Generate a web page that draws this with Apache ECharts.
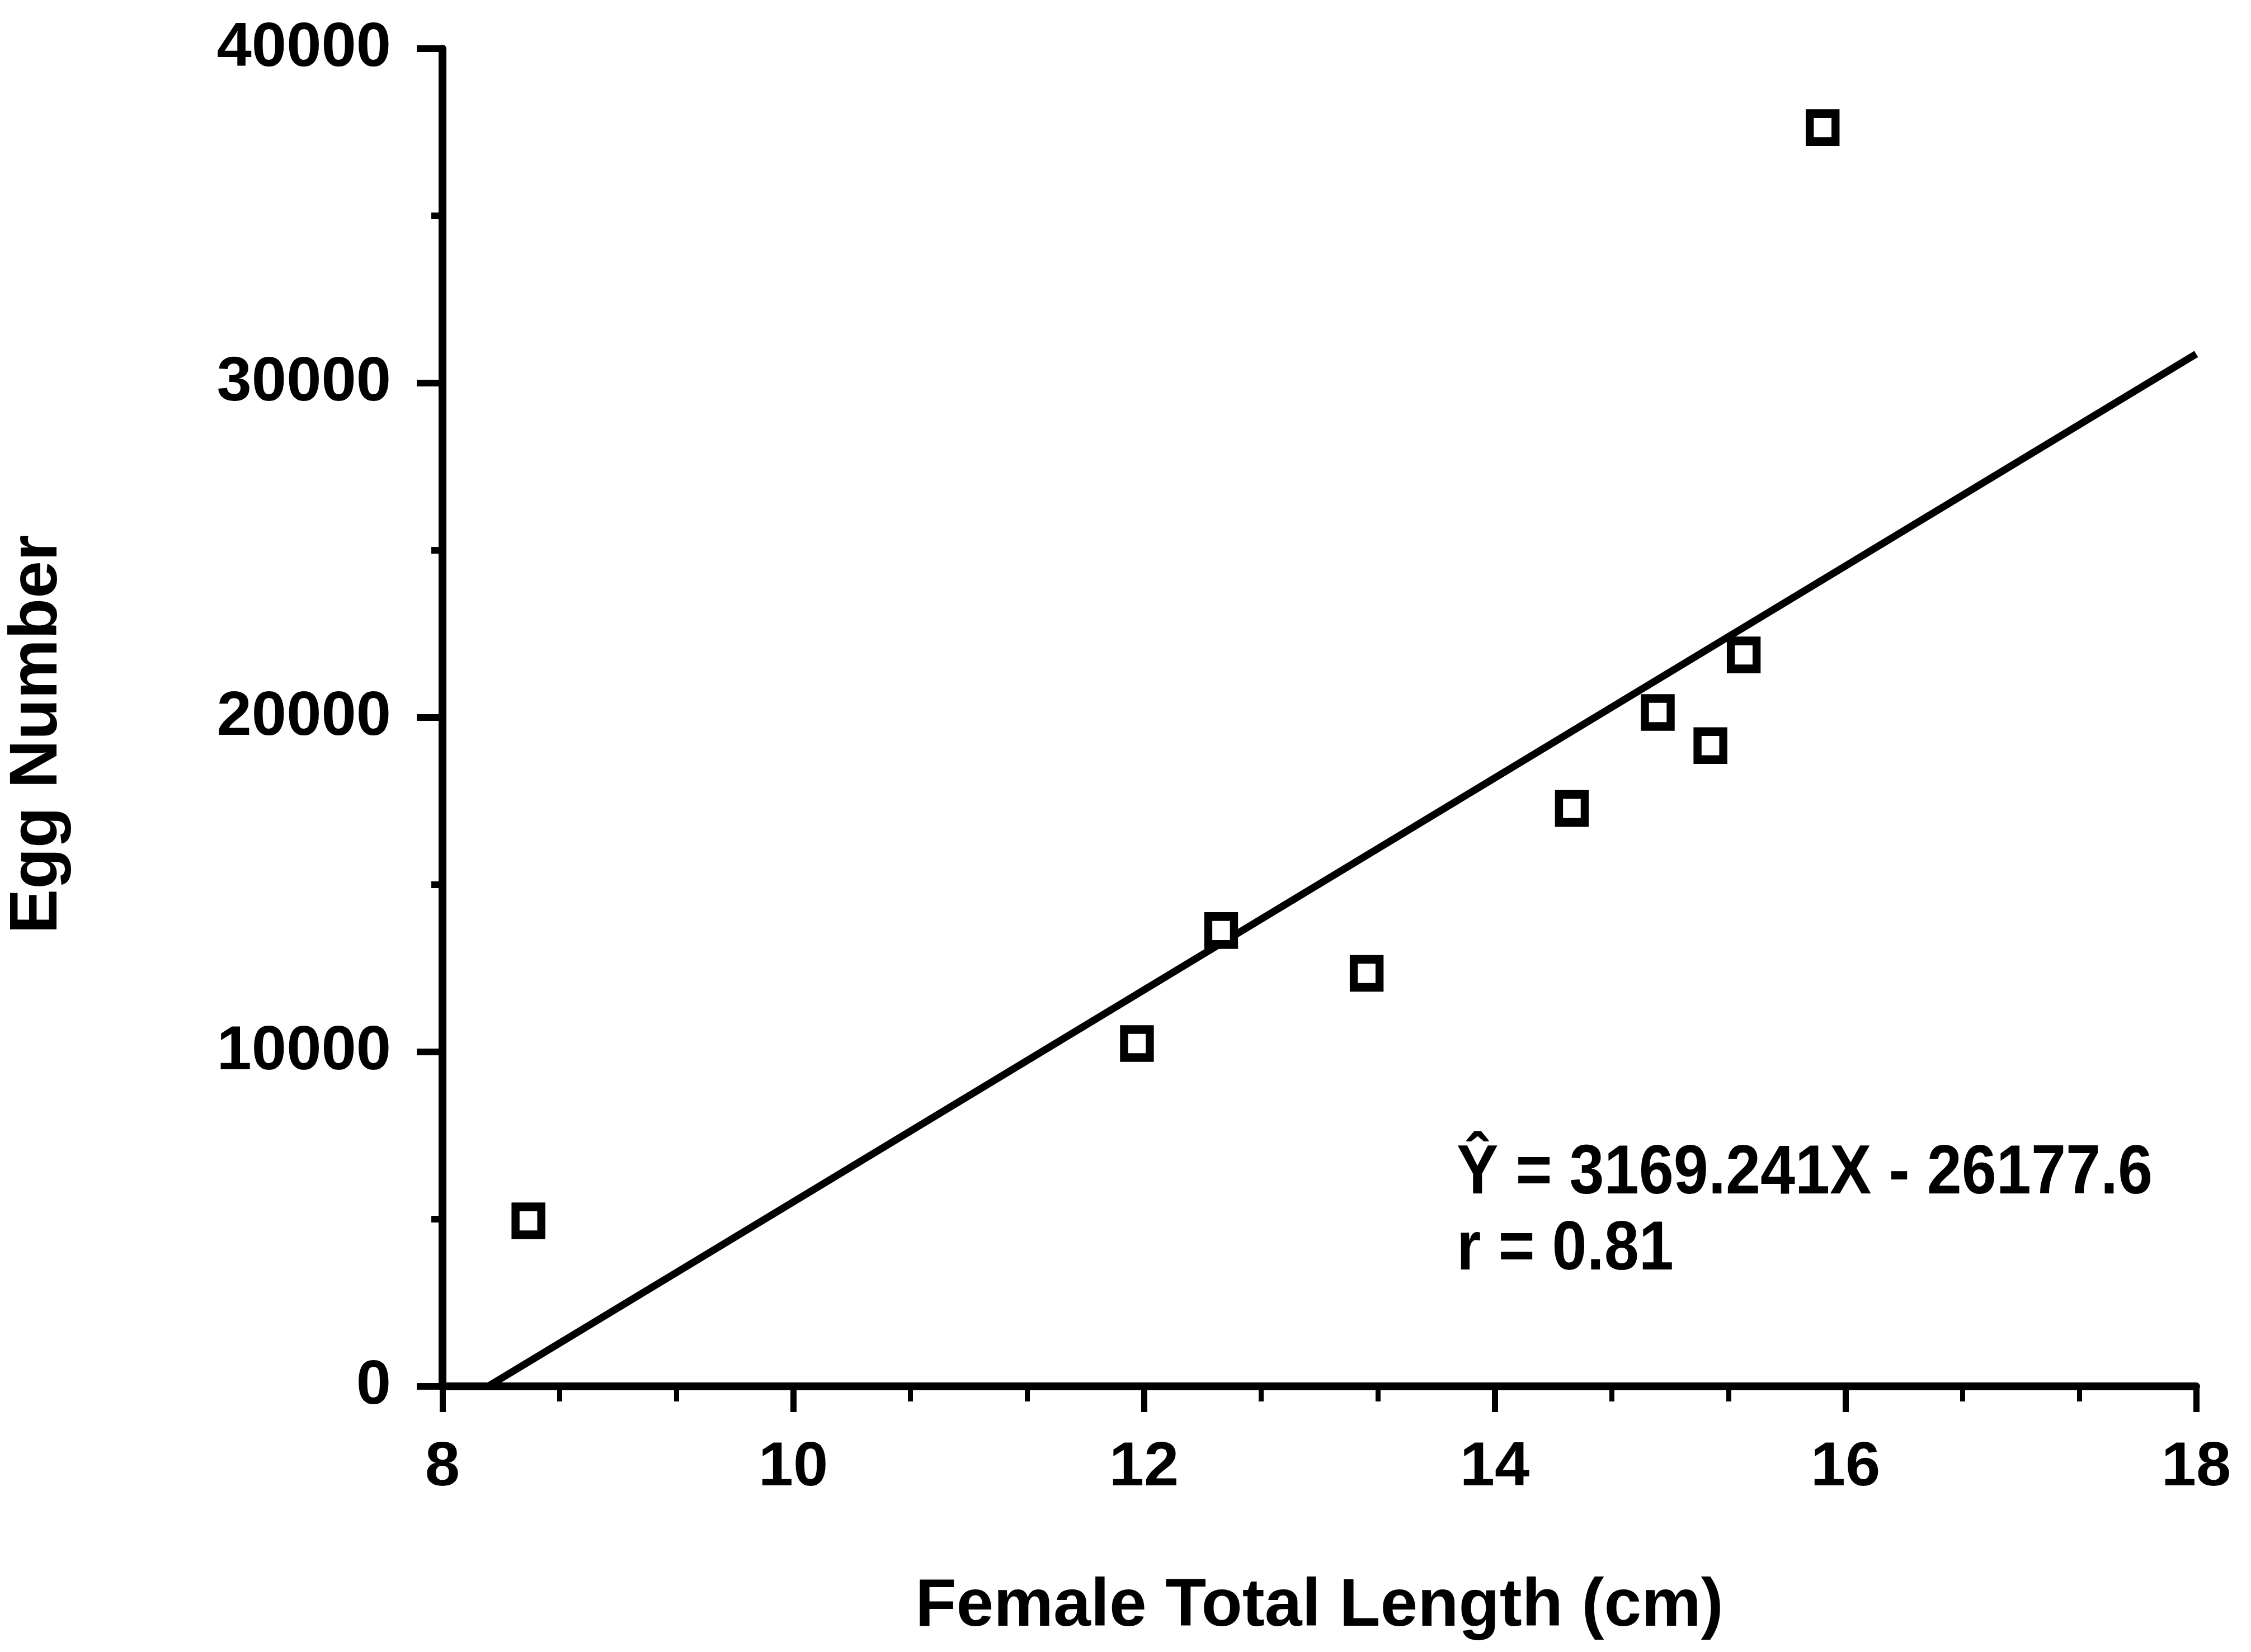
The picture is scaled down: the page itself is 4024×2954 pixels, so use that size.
<!DOCTYPE html>
<html>
<head>
<meta charset="utf-8">
<script src="https://cdn.jsdelivr.net/npm/echarts@6/dist/echarts.min.js"></script>
<style>
  html, body { margin: 0; padding: 0; background: #fff; }
  #chart { width: 4024px; height: 2954px; }
</style>
</head>
<body>
<div id="chart"></div>
<script>
// Female total length (cm) and egg number for each fish
const lengthCm  = [8.49, 11.96, 12.44, 13.27, 14.44, 14.93, 15.23, 15.42, 15.87];
const eggNumber = [4950, 10250, 13630, 12350, 17280, 20150, 19160, 21870, 37640];

// Fitted regression line: Y = slope * X + intercept
const slope = 3169.241;
const intercept = -26177.6;
const rValue = 0.81;

// Axis ticks
const xTicks = [8, 10, 12, 14, 16, 18];
const yTicks = [0, 10000, 20000, 30000, 40000];

const points = lengthCm.map((x, i) => [x, eggNumber[i]]);

// The fitted line runs from where it meets Y = 0 up to the right end of the axis
const xStart = -intercept / slope;
const xEnd = xTicks[xTicks.length - 1];
const fitLine = [[xStart, slope * xStart + intercept], [xEnd, slope * xEnd + intercept]];

const INK = '#000';
const labelFont = { color: INK, fontFamily: 'Liberation Sans', fontWeight: 'bold', fontSize: 112 };
const titleFont = { color: INK, fontFamily: 'Liberation Sans', fontWeight: 'bold', fontSize: 120 };

const chart = echarts.init(document.getElementById('chart'), null, { renderer: 'canvas' });
chart.setOption({
  backgroundColor: '#fff',
  animation: false,
  grid: { left: 788, right: 98, top: 87, bottom: 475, containLabel: false },
  xAxis: {
    type: 'value',
    min: xTicks[0],
    max: xTicks[xTicks.length - 1],
    interval: xTicks[1] - xTicks[0],
    name: 'Female Total Length (cm)',
    nameLocation: 'middle',
    nameGap: 335,
    nameTextStyle: titleFont,
    axisLine: { show: true, onZero: false, lineStyle: { color: INK, width: 14 } },
    axisTick: { show: true, length: 46, lineStyle: { color: INK, width: 11 } },
    minorTick: { show: true, splitNumber: 3, length: 27, lineStyle: { color: INK, width: 9 } },
    axisLabel: Object.assign({ margin: 90, formatter: v => String(v) }, labelFont),
    splitLine: { show: false },
    minorSplitLine: { show: false }
  },
  yAxis: {
    type: 'value',
    min: yTicks[0],
    max: yTicks[yTicks.length - 1],
    interval: yTicks[1] - yTicks[0],
    name: 'Egg Number',
    nameLocation: 'middle',
    nameGap: 663,
    nameRotate: 90,
    nameTextStyle: Object.assign({ padding: [0, 60, 0, 0] }, titleFont),
    axisLine: { show: true, onZero: false, lineStyle: { color: INK, width: 14 } },
    axisTick: { show: true, length: 46, lineStyle: { color: INK, width: 12 } },
    minorTick: { show: true, splitNumber: 2, length: 20, lineStyle: { color: INK, width: 12 } },
    axisLabel: Object.assign({ margin: 92, formatter: v => String(v) }, labelFont),
    splitLine: { show: false },
    minorSplitLine: { show: false }
  },
  series: [
    {
      name: 'fit',
      type: 'line',
      data: fitLine,
      showSymbol: false,
      symbol: 'none',
      lineStyle: { color: INK, width: 13 },
      silent: true,
      z: 2
    },
    {
      name: 'fish',
      type: 'scatter',
      data: points,
      symbol: 'rect',
      symbolSize: [46, 50],
      itemStyle: { color: '#fff', borderColor: INK, borderWidth: 15, opacity: 1 },
      silent: true,
      z: 3
    }
  ],
  graphic: [
    {
      type: 'text',
      x: 2604,
      y: 2032,
      scaleX: 0.9,
      style: {
        text: 'Ŷ = ' + slope.toFixed(3) + 'X - ' + Math.abs(intercept).toFixed(1) + '\nr = ' + rValue.toFixed(2),
        fill: INK,
        font: 'bold 124px "Liberation Sans"',
        lineHeight: 136,
        align: 'left',
        verticalAlign: 'top'
      }
    }
  ]
});
</script>
</body>
</html>
